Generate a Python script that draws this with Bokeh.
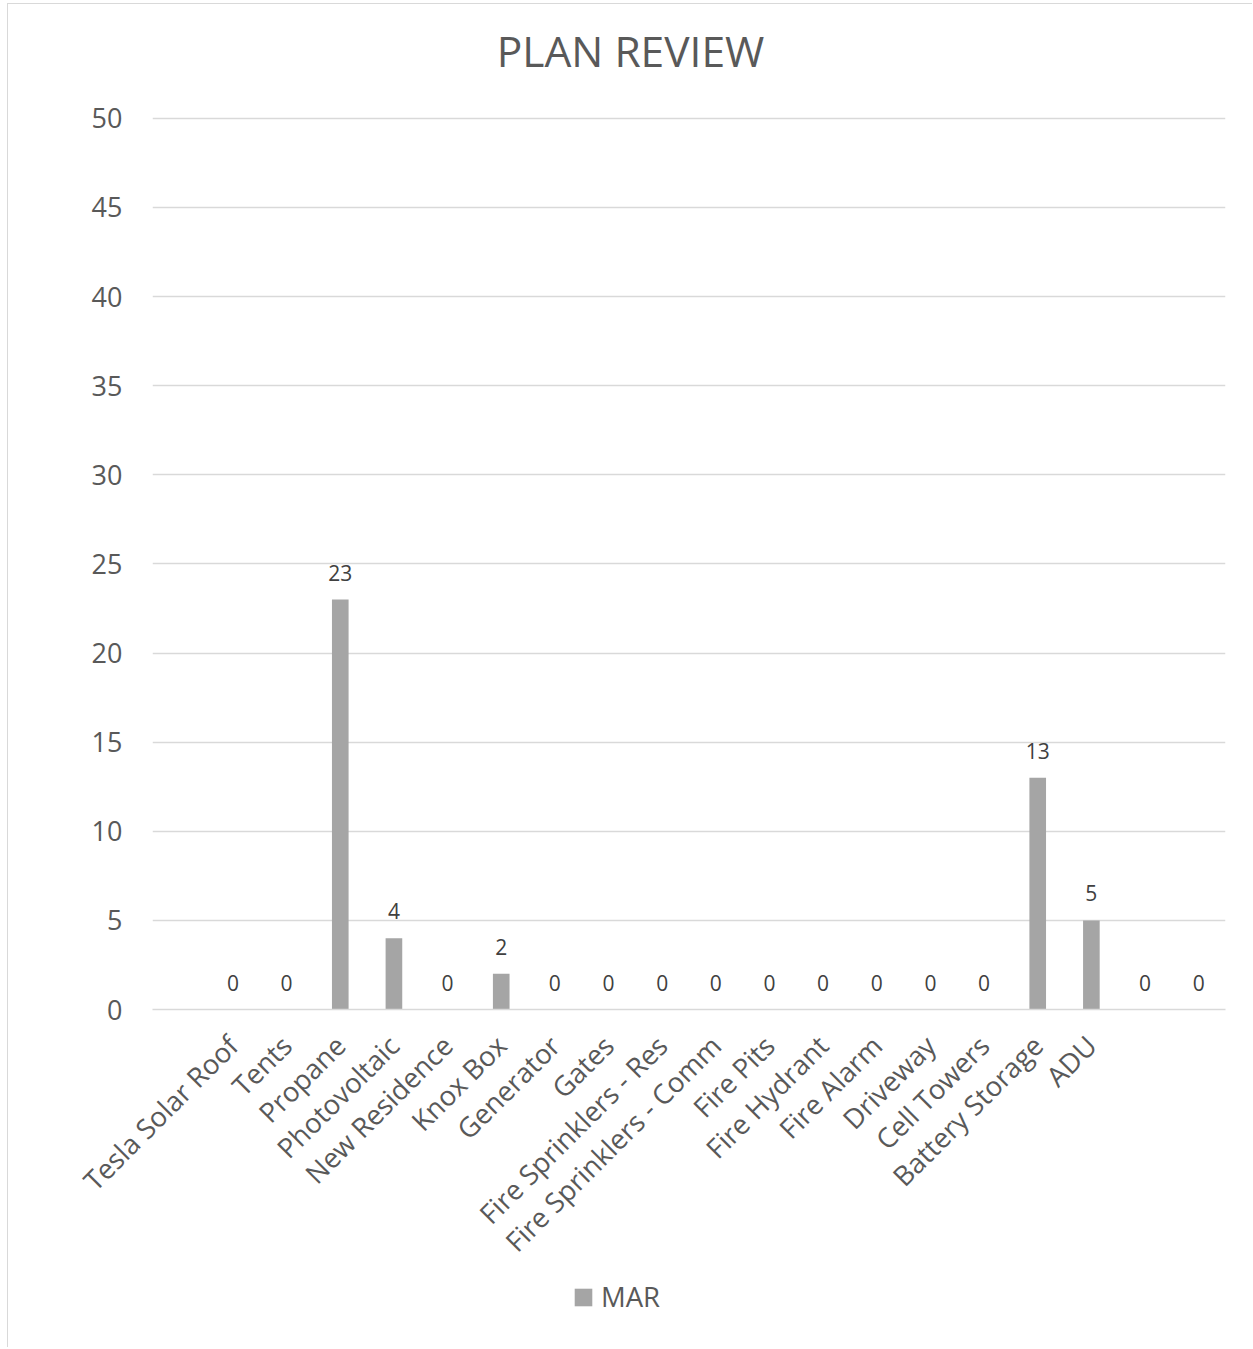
from math import pi
from bokeh.plotting import figure
from bokeh.layouts import column
from bokeh.models import (ColumnDataSource, Range1d, FixedTicker, Legend, LegendItem, Label)
from bokeh.embed import file_html
from bokeh.resources import INLINE
from bokeh.core.properties import value

categories = ["", "Tesla Solar Roof", "Tents", "Propane", "Photovoltaic", "New Residence",
              "Knox Box", "Generator", "Gates", "Fire Sprinklers - Res", "Fire Sprinklers - Comm",
              "Fire Pits", "Fire Hydrant", "Fire Alarm", "Driveway", "Cell Towers",
              "Battery Storage", "ADU", "", ""]
mar = [None, 0, 0, 23, 4, 0, 2, 0, 0, 0, 0, 0, 0, 0, 0, 0, 13, 5, 0, 0]
y_ticks = [0, 5, 10, 15, 20, 25, 30, 35, 40, 45, 50]
series_name = "MAR"
title_text = "PLAN REVIEW"

FONT = "Open Sans"
TXT = "#595959"
BAR = "#a5a5a5"
GRID = "#d9d9d9"

xs = [i + 0.5 for i in range(len(categories))]
idx = [i for i, v in enumerate(mar) if v is not None]
src = ColumnDataSource(dict(
    x=[xs[i] for i in idx],
    top=[mar[i] for i in idx],
    lbl=[str(mar[i]) for i in idx],
))

W = 1244
ML, MR = 144, 27

# title strip
p0 = figure(width=W, height=96, output_backend="svg", toolbar_location=None,
            x_range=Range1d(0, 1), y_range=Range1d(0, 1),
            min_border_left=ML, min_border_right=MR, min_border_top=0, min_border_bottom=0)
p0.axis.visible = False
p0.grid.visible = False
p0.outline_line_color = None
p0.add_layout(Label(x=478, y=50, x_units="screen", y_units="screen", text=title_text,
                    text_align="center", text_baseline="alphabetic",
                    text_font=FONT, text_font_size="42.5px", text_color=TXT))

# main chart
p = figure(width=W, height=1176, output_backend="svg", toolbar_location=None,
           x_range=Range1d(0, len(categories)), y_range=Range1d(0, 50.1),
           min_border_left=ML, min_border_right=MR, min_border_top=16, min_border_bottom=267)
p.outline_line_color = None

r = p.vbar(x="x", top="top", width=0.31, bottom=0, source=src,
           fill_color=BAR, line_color=None)
p.text(x="x", y="top", text="lbl", source=src, text_align="center",
       text_baseline="alphabetic", y_offset=-27, text_font=value(FONT),
       text_font_size="21px", text_color="#404040")

p.yaxis.ticker = FixedTicker(ticks=y_ticks)
p.yaxis.axis_line_color = None
p.yaxis.major_tick_line_color = None
p.yaxis.major_tick_out = 0
p.yaxis.minor_tick_line_color = None
p.yaxis.major_label_standoff = 30
p.yaxis.major_label_text_font = FONT
p.yaxis.major_label_text_font_size = "27px"
p.yaxis.major_label_text_color = TXT

p.xaxis.ticker = FixedTicker(ticks=xs)
p.xaxis.major_label_overrides = {x: c for x, c in zip(xs, categories)}
p.xaxis.axis_line_color = GRID
p.xaxis.axis_line_width = 1.5
p.xaxis.major_tick_line_color = None
p.xaxis.major_tick_out = 0
p.xaxis.minor_tick_line_color = None
p.xaxis.major_label_orientation = pi / 4
p.xaxis.major_label_standoff = 31
p.xaxis.major_label_text_font = FONT
p.xaxis.major_label_text_font_size = "27.5px"
p.xaxis.major_label_text_color = TXT

p.xgrid.grid_line_color = None
p.ygrid.ticker = FixedTicker(ticks=y_ticks)
p.ygrid.grid_line_color = GRID
p.ygrid.grid_line_width = 1.5

# legend strip
p2 = figure(width=W, height=71, output_backend="svg", toolbar_location=None,
            x_range=Range1d(0, 1), y_range=Range1d(0, 1),
            min_border_left=ML, min_border_right=MR, min_border_top=0, min_border_bottom=0)
p2.axis.visible = False
p2.grid.visible = False
p2.outline_line_color = None
proxy = p2.vbar(x=[-5], top=[0], bottom=[0], width=0.31, fill_color=BAR, line_color=None)
legend = Legend(items=[LegendItem(label=series_name, renderers=[proxy])],
                location=(420, 32), orientation="horizontal",
                glyph_width=22, glyph_height=22, label_standoff=7, padding=0, margin=0,
                border_line_color=None, background_fill_alpha=0,
                label_text_font=FONT, label_text_font_size="27.5px", label_text_color=TXT)
p2.add_layout(legend, "center")

layout = column(p0, p, p2, spacing=0)
layout.styles = {"border-left": "1px solid #d9d9d9", "border-top": "1px solid #d9d9d9",
                 "margin-left": "7px", "margin-top": "3px"}
open("out.html", "w").write(file_html(layout, INLINE))
